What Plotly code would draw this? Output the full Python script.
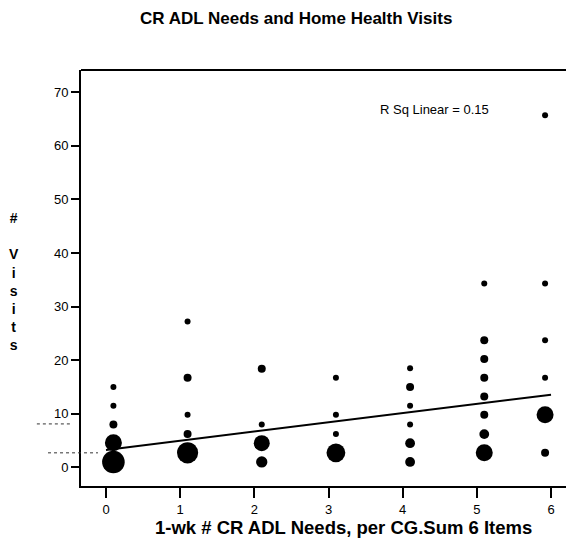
import plotly.graph_objects as go

# Care-recipient ADL needs (x, plotted slightly offset per column) vs. home health visits
adl_x = [0.1, 0.1, 0.1, 0.1, 0.1,
         1.1, 1.1, 1.1, 1.1, 1.1,
         2.1, 2.1, 2.1, 2.1,
         3.1, 3.1, 3.1, 3.1,
         4.1, 4.1, 4.1, 4.1, 4.1, 4.1,
         5.1, 5.1, 5.1, 5.1, 5.1, 5.1, 5.1, 5.1,
         5.92, 5.92, 5.92, 5.92, 5.92, 5.92]
visits = [15.0, 11.5, 8.0, 4.6, 1.0,
          27.2, 16.7, 9.8, 6.2, 2.7,
          18.4, 8.0, 4.5, 1.0,
          16.7, 9.8, 6.2, 2.7,
          18.5, 15.0, 11.5, 8.0, 4.5, 1.0,
          34.3, 23.7, 20.2, 16.7, 13.2, 9.8, 6.2, 2.7,
          65.7, 34.3, 23.7, 16.7, 9.8, 2.7]
# number of cases sharing each point
counts = [1, 1, 2, 9, 16,
          1, 2, 1, 2, 14,
          2, 1, 8, 4,
          1, 1, 1, 11,
          1, 2, 1, 1, 3, 3,
          1, 2, 2, 2, 2, 2, 3, 9,
          1, 1, 1, 1, 9, 2]

# linear fit line endpoints
fit_x = [0, 6]
fit_y = [3.23, 13.55]
r_sq = 0.15

x_ticks = [0, 1, 2, 3, 4, 5, 6]
y_ticks = [0, 10, 20, 30, 40, 50, 60, 70]

FONT = "Arial, Liberation Sans, sans-serif"

fig = go.Figure()

fig.add_trace(go.Scatter(
    x=adl_x, y=visits, mode="markers",
    marker=dict(size=counts, sizemode="area", sizeref=1 / 16, sizemin=3,
                color="black", opacity=1, line=dict(width=0)),
    showlegend=False, hoverinfo="x+y",
))

fig.add_trace(go.Scatter(
    x=fit_x, y=fit_y, mode="lines",
    line=dict(color="black", width=2),
    showlegend=False, hoverinfo="skip",
))

fig.update_layout(
    width=566, height=538,
    margin=dict(l=81, r=0, t=70, b=52),
    paper_bgcolor="white", plot_bgcolor="white",
    font=dict(family=FONT, color="black"),
    xaxis=dict(
        range=[-0.337, 6.202], tickvals=x_ticks, ticktext=[str(v) for v in x_ticks],
        showgrid=False, zeroline=False,
        showline=True, linecolor="black", linewidth=2,
        ticks="outside", ticklen=10, tickwidth=1.5, tickcolor="black",
        tickfont=dict(size=13, family=FONT, color="black"),
    ),
    yaxis=dict(
        range=[-3.49, 74.17], tickvals=y_ticks, ticktext=[str(v) for v in y_ticks],
        showgrid=False, zeroline=False,
        showline=True, linecolor="black", linewidth=2,
        ticks="outside", ticklen=8, tickwidth=1.5, tickcolor="black",
        tickfont=dict(size=13, family=FONT, color="black"),
    ),
    shapes=[
        # top frame line
        dict(type="line", xref="paper", yref="paper", x0=0, x1=1, y0=1, y1=1,
             line=dict(color="black", width=2)),
        # faint reference dashes left of the axis
        dict(type="line", xref="paper", yref="y", x0=-0.091, x1=-0.019, y0=8.1, y1=8.1,
             line=dict(color="#333", width=1, dash="dot")),
        dict(type="line", xref="paper", yref="y", x0=-0.068, x1=0.035, y0=2.7, y1=2.7,
             line=dict(color="#333", width=1, dash="dot")),
    ],
    annotations=[
        dict(text="<b>CR ADL Needs and Home Health Visits</b>", xref="paper", yref="paper",
             x=(296 - 81) / 485, y=1 + (70 - 18) / 416, xanchor="center", yanchor="middle",
             showarrow=False, font=dict(size=17, family=FONT)),
        dict(text="<b>1-wk # CR ADL Needs, per CG.Sum 6 Items</b>", xref="paper", yref="paper",
             x=(343 - 81) / 485, y=-(527 - 486) / 416, xanchor="center", yanchor="middle",
             showarrow=False, font=dict(size=18.5, family=FONT)),
        dict(text="<b>#<br><br>V<br>i<br>s<br>i<br>t<br>s</b>", xref="paper", yref="paper",
             x=-(81 - 14) / 485, y=(486 - 281) / 416, xanchor="center", yanchor="middle",
             showarrow=False, align="center", font=dict(size=14, family=FONT)),
        dict(text=f"R Sq Linear = {r_sq:.2f}", xref="paper", yref="paper",
             x=(378 - 81) / 485, y=(486 - 109) / 416, xanchor="left", yanchor="middle",
             showarrow=False, font=dict(size=13, family=FONT)),
    ],
)

fig.write_html("out.html")
